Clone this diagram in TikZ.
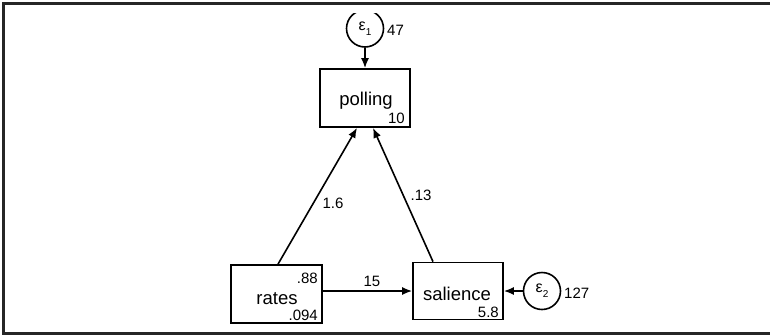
\documentclass[tikz,border=0pt]{standalone}
\usepackage{fontspec}
\setmainfont{Liberation Sans}
\usetikzlibrary{arrows.meta, calc}

\newcommand{\errterm}[1]{ε\raisebox{-0.3em}{\fontsize{10}{10}\selectfont #1}}

\begin{document}
\begin{tikzpicture}[x=1pt, y=-1pt,
    varbox/.style={draw, line width=1.7pt, minimum width=90pt,
        minimum height=58pt, inner sep=0pt},
    errcirc/.style={draw, circle, line width=1.6pt, minimum size=37pt,
        inner sep=0pt, font=\fontsize{16}{16}\selectfont},
    link/.style={line width=1.6pt, -{Latex[length=10pt, width=8pt]}},
    namelbl/.style={font=\fontsize{18.5}{18.5}\selectfont, inner sep=0pt,
        anchor=base},
    numlbl/.style={font=\fontsize{15}{15}\selectfont, inner sep=0pt}]

    \useasboundingbox (0,0) rectangle (770,335);
    \draw[line width=3pt, draw=black!85]
        (770,3.5) -- (3.5,3.5) -- (3.5,333.5) -- (770,333.5);

    \node[varbox] (polling) at (365,98) {};
    \node[varbox, minimum width=91pt] (rates) at (276.5,294) {};
    \node[varbox, minimum height=57pt] (salience) at (458,291) {};

    \node[namelbl] at (366,105) {polling};
    \node[namelbl] at (277,304) {rates};
    \node[namelbl] at (457,300) {salience};

    \node[numlbl, anchor=base east] at (405,123) {10};
    \node[numlbl, anchor=base east] at (318,283) {.88};
    \node[numlbl, anchor=base east] at (318,320) {.094};
    \node[numlbl, anchor=base east] at (499,317) {5.8};

    \begin{scope}
        \clip (0,13) rectangle (770,335);
        \node[errcirc] (e1) at (365,28.5) {\errterm{1}};
    \end{scope}
    \node[errcirc] (e2) at (542,291) {\errterm{2}};
    \node[numlbl, anchor=base west] at (387,35) {47};
    \node[numlbl, anchor=base west] at (564,298) {127};

    \draw[link] (e1) -- (polling);
    \draw[link] (e2) -- (salience);
    \draw[link] (rates.east |- salience.west) --
        node[numlbl, above=4pt, pos=0.55] {15} (salience.west);
    \draw[link] ($(rates.north)+(1.5,0)$) -- ($(polling.south)+(-8,0)$);
    \draw[link] ($(salience.north)+(-25,0)$) -- ($(polling.south)+(8,0)$);

    \node[numlbl] at (333,203) {1.6};
    \node[numlbl] at (421,195) {.13};
\end{tikzpicture}
\end{document}
